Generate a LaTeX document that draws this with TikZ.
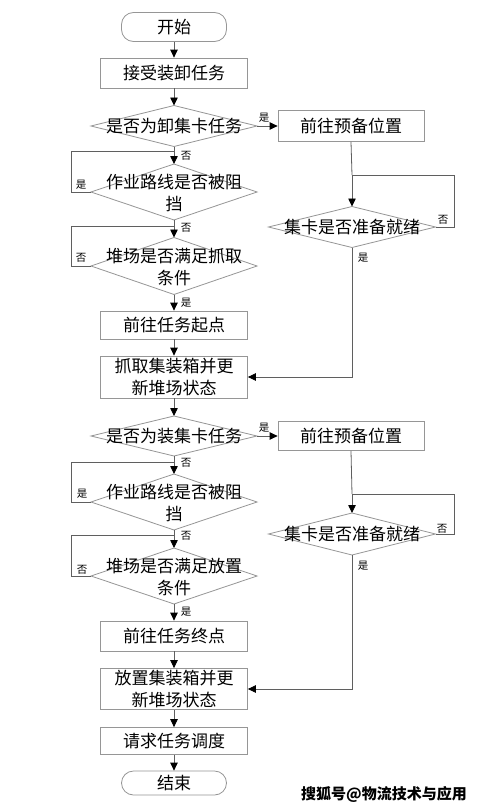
\documentclass[tikz,border=0pt]{standalone}
\usepackage{fontspec}
\setmainfont{Noto Sans CJK SC}
\usetikzlibrary{shapes.geometric,arrows.meta,calc}
\definecolor{boxgray}{RGB}{150,150,150}
\definecolor{linegray}{RGB}{95,95,95}
\begin{document}
\begin{tikzpicture}[x=1pt,y=-1pt,
  font=\fontsize{17}{22}\selectfont,
  box/.style={draw=boxgray, line width=0.8pt, fill=white, minimum width=147pt, inner sep=0pt, align=center},
  term/.style={draw=boxgray, line width=0.8pt, fill=white, minimum width=105pt, inner sep=0pt, rounded corners=12pt},
  dia/.style={draw=boxgray, line width=0.8pt, diamond, minimum width=166pt, inner sep=0pt, outer sep=0pt},
  txt/.style={inner sep=0pt, align=center},
  arr/.style={draw=linegray, line width=0.8pt, -{Triangle[length=8pt,width=7.5pt,color=black,fill=black]}},
  ln/.style={draw=linegray, line width=0.8pt},
  lab/.style={font=\fontsize{10.5}{12}\selectfont, inner sep=0pt}
]
\useasboundingbox (0,0) rectangle (484,811);
\fill[white] (0,0) rectangle (484,811);

% left column
\node[term, minimum height=29pt] (start) at (174,27) {开始};
\node[box, minimum height=30pt] (b1) at (174,73) {接受装卸任务};
\node[dia, minimum height=41pt] (d1) at (174,126) {};
\node[txt] (d1t) at (d1) {是否为卸集卡任务};
\node[dia, minimum height=56pt] (d2) at (174,192) {};
\node[txt] (d2t) at (174,193) {作业路线是否被阻\\挡};
\node[dia, minimum height=57pt] (d3) at (174,266) {};
\node[txt] (d3t) at (174,267) {堆场是否满足抓取\\条件};
\node[box, minimum height=28pt] (b2) at (174,325) {前往任务起点};
\node[box, minimum height=42pt] (b3) at (174,377) {抓取集装箱并更\\新堆场状态};
\node[dia, minimum height=40pt] (d4) at (174,436) {};
\node[txt] (d4t) at (d4) {是否为装集卡任务};
\node[dia, minimum height=56pt] (d5) at (174,502) {};
\node[txt] (d5t) at (174,503) {作业路线是否被阻\\挡};
\node[dia, minimum height=56pt] (d6) at (174,576) {};
\node[txt] (d6t) at (174,577) {堆场是否满足放置\\条件};
\node[box, minimum height=30pt] (b4) at (174,636) {前往任务终点};
\node[box, minimum height=41pt] (b5) at (174,689) {放置集装箱并更\\新堆场状态};
\node[box, minimum height=27pt] (b6) at (174,741) {请求任务调度};
\node[term, minimum height=24pt] (end) at (174,783) {结束};

% right column
\node[box, minimum width=146pt, minimum height=31pt] (r1) at (351,126) {前往预备位置};
\node[dia, minimum width=167pt, minimum height=41pt] (rd1) at (352,227) {};
\node[txt] (rd1t) at (rd1) {集卡是否准备就绪};
\node[box, minimum width=146pt, minimum height=29pt] (r2) at (351,436) {前往预备位置};
\node[dia, minimum width=167pt, minimum height=42pt] (rd2) at (352,534) {};
\node[txt] (rd2t) at (rd2) {集卡是否准备就绪};

% junctions
\coordinate (j2) at (174,151);
\coordinate (j3) at (174,226);
\coordinate (j5) at (174,462);
\coordinate (j6) at (174,535);
\coordinate (jr1) at (352,175);
\coordinate (jr2) at (352,494);

% main flow
\draw[arr] (start) -- (b1);
\draw[arr] (b1) -- (d1);
\draw[arr] (d1.east) -- (r1.west);
\draw[arr] (d1.south) -- (d2.north);
\draw[ln] (d2.west) -- ++(-20,0) |- (j2);
\draw[arr] (d2.south) -- (d3.north);
\draw[ln] (d3.west) -- ++(-20,0) |- (j3);
\draw[arr] (d3.south) -- (b2.north);
\draw[arr] (b2) -- (b3);
\draw[ln] (r1.south) -- (jr1);
\draw[arr] (jr1) -- (rd1.north);
\draw[ln] (rd1.east) -- ++(19,0) |- (jr1);
\draw[arr] (rd1.south) |- (b3.east);
\draw[arr] (b3) -- (d4);
\draw[arr] (d4.east) -- (r2.west);
\draw[arr] (d4.south) -- (d5.north);
\draw[ln] (d5.west) -- ++(-20,0) |- (j5);
\draw[arr] (d5.south) -- (d6.north);
\draw[ln] (d6.west) -- ++(-20,0) |- (j6);
\draw[arr] (d6.south) -- (b4.north);
\draw[arr] (b4) -- (b5);
\draw[arr] (b5) -- (b6);
\draw[arr] (b6) -- (end);
\draw[ln] (r2.south) -- (jr2);
\draw[arr] (jr2) -- (rd2.north);
\draw[ln] (rd2.east) -- ++(19,0) |- (jr2);
\draw[arr] (rd2.south) |- (b5.east);

% labels
\node[lab] (l1) at (264,118) {是};
\node[lab] (l2) at (186,156) {否};
\node[lab] (l3) at (81,185) {是};
\node[lab] (l4) at (186,228) {否};
\node[lab] (l5) at (81,258) {否};
\node[lab] (l6) at (186,303) {是};
\node[lab] (l7) at (443,220) {否};
\node[lab] (l8) at (363,258) {是};
\node[lab] (l9) at (264,428) {是};
\node[lab] (l10) at (186,463) {否};
\node[lab] (l11) at (82,494) {是};
\node[lab] (l12) at (186,536) {否};
\node[lab] (l13) at (82,570) {否};
\node[lab] (l14) at (186,612) {是};
\node[lab] (l15) at (442,529) {否};
\node[lab] (l16) at (363,566) {是};

% watermark
\node[inner sep=0pt, font=\fontsize{15}{16}\bfseries] (wm) at (384,794) {搜狐号@物流技术与应用};
\end{tikzpicture}
\end{document}
